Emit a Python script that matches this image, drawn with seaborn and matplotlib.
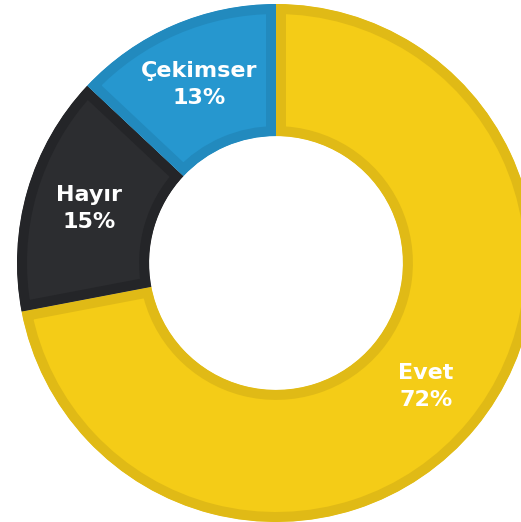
import numpy as np
import matplotlib
matplotlib.use("Agg")
import matplotlib.pyplot as plt
import seaborn as sns

categories = ["Evet", "Hayır", "Çekimser"]
values = [72, 15, 13]
fill_colors = ["#F4CC17", "#2C2D30", "#2697CF"]
border_colors = ["#E0BA16", "#242528", "#228ABE"]

sns.set_theme(style="white")
plt.rcParams['font.family'] = ['DejaVu Sans']

W, H = 521, 522
fig = plt.figure(figsize=(W / 100, H / 100), dpi=100)
ax = fig.add_axes([0, 0, 1, 1])

cx, cy, R = 276, 263, 259  # pixel centre (from top) and radius
wedges, _ = ax.pie(values, colors=fill_colors, startangle=90, counterclock=False,
                   radius=1.0, wedgeprops=dict(width=0.51, linewidth=0))

border_px = 10
for w, bc in zip(wedges, border_colors):
    w.set_edgecolor(bc)
    w.set_linewidth(2 * border_px * 0.72)
    w.set_clip_on(True)
    w.set_clip_path(w)

label_r = 0.75
for w, cat, v in zip(wedges, categories, values):
    mid = np.deg2rad((w.theta1 + w.theta2) / 2)
    x, y = label_r * np.cos(mid), label_r * np.sin(mid)
    ax.text(x, y, f"{cat}\n{v}%", ha="center", va="center", color="white",
            fontsize=16, fontweight="bold", linespacing=1.45)

ax.set_xlim(-cx / R, (W - cx) / R)
ax.set_ylim(-(H - cy) / R, cy / R)
ax.set_aspect("equal")
ax.axis("off")
fig.savefig("out.png", dpi=100, facecolor="white")
